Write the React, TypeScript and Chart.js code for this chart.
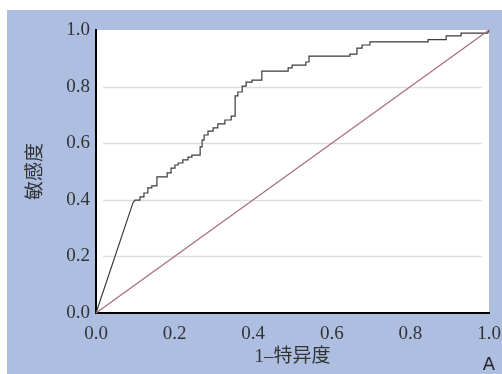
import React, { useEffect, useRef } from "react";
import { Chart, registerables } from "chart.js";

Chart.register(...registerables);

// 1 - specificity (false positive rate)
const fprValues = [
  0, 0.094, 0.099, 0.112, 0.112, 0.122, 0.122, 0.132, 0.132, 0.142, 0.142, 0.155, 0.155,
  0.181, 0.181, 0.191, 0.191, 0.201, 0.201, 0.209, 0.209, 0.221, 0.221, 0.234, 0.234,
  0.244, 0.244, 0.265, 0.265, 0.27, 0.27, 0.275, 0.275, 0.285, 0.285, 0.298, 0.298,
  0.31, 0.31, 0.328, 0.328, 0.344, 0.344, 0.354, 0.354, 0.361, 0.361, 0.372, 0.372,
  0.382, 0.382, 0.397, 0.397, 0.422, 0.422, 0.489, 0.489, 0.499, 0.499, 0.534, 0.534,
  0.542, 0.542, 0.646, 0.646, 0.664, 0.664, 0.677, 0.677, 0.697, 0.697, 0.845, 0.845,
  0.891, 0.891, 0.929, 0.929, 0.997, 1,
];
// sensitivity (true positive rate)
const tprValues = [
  0, 0.389, 0.399, 0.399, 0.41, 0.41, 0.424, 0.424, 0.442, 0.442, 0.449, 0.449, 0.481,
  0.481, 0.495, 0.495, 0.512, 0.512, 0.523, 0.523, 0.53, 0.53, 0.541, 0.541, 0.551,
  0.551, 0.558, 0.558, 0.587, 0.587, 0.611, 0.611, 0.629, 0.629, 0.643, 0.643, 0.654,
  0.654, 0.668, 0.668, 0.682, 0.682, 0.696, 0.696, 0.767, 0.767, 0.781, 0.781, 0.802,
  0.802, 0.816, 0.816, 0.823, 0.823, 0.855, 0.855, 0.866, 0.866, 0.876, 0.876, 0.887,
  0.887, 0.908, 0.908, 0.915, 0.915, 0.936, 0.936, 0.947, 0.947, 0.958, 0.958, 0.966,
  0.966, 0.979, 0.979, 0.989, 0.989, 1,
];
// reference diagonal
const diagX = [0, 1];
const diagY = [0, 1];

const tickValues = [0, 0.2, 0.4, 0.6, 0.8, 1.0];
const gridValues = [0.2, 0.4, 0.6, 0.8];
const xTitle = "1–特异度";
const yTitle = "敏感度";
const panelLabel = "A";

const SERIF = "'Liberation Serif', 'Noto Sans CJK SC', serif";

const bgPlugin = {
  id: "bgPlugin",
  beforeDraw(chart: any) {
    const { ctx, chartArea, width, height } = chart;
    ctx.save();
    ctx.fillStyle = "#ffffff";
    ctx.fillRect(0, 0, width, height);
    ctx.fillStyle = "#adbee0";
    ctx.fillRect(7, 10, width - 7, height - 10);
    ctx.fillStyle = "#ffffff";
    ctx.fillRect(chartArea.left, chartArea.top, chartArea.right - chartArea.left, chartArea.bottom - chartArea.top);
    // grid lines
    const ys = chart.scales.y;
    ctx.strokeStyle = "#dedede";
    ctx.lineWidth = 1.5;
    gridValues.forEach((v) => {
      const py = Math.round(ys.getPixelForValue(v)) + 0.5;
      ctx.beginPath();
      ctx.moveTo(chartArea.left + 7, py);
      ctx.lineTo(chartArea.right - 7, py);
      ctx.stroke();
    });
    ctx.restore();
  },
  afterDraw(chart: any) {
    const { ctx, chartArea } = chart;
    ctx.save();
    ctx.fillStyle = "#222";
    ctx.font = "18px 'DejaVu Sans', sans-serif";
    ctx.textAlign = "center";
    ctx.textBaseline = "alphabetic";
    ctx.fillText(panelLabel, chartArea.right, 370);
    ctx.restore();
  },
};

export default function App() {
  const ref = useRef<HTMLCanvasElement | null>(null);

  useEffect(() => {
    if (!ref.current) return;
    const roc = fprValues.map((x, i) => ({ x, y: tprValues[i] }));
    const diag = diagX.map((x, i) => ({ x, y: diagY[i] }));
    const chart = new Chart(ref.current, {
      type: "scatter",
      data: {
        datasets: [
          {
            data: diag,
            showLine: true,
            borderColor: "#a86b7b",
            borderWidth: 1.2,
            pointRadius: 0,
            clip: false,
          } as any,
          {
            data: roc,
            showLine: true,
            borderColor: "#3a3a3a",
            borderWidth: 1.2,
            pointRadius: 0,
            clip: false,
          } as any,
        ],
      },
      options: {
        responsive: false,
        animation: false,
        devicePixelRatio: 1,
        layout: { padding: { top: 30, right: 13, left: 0, bottom: 0 } },
        plugins: { legend: { display: false }, tooltip: { enabled: false } },
        scales: {
          x: {
            type: "linear",
            min: 0,
            max: 1,
            afterFit(scale: any) {
              scale.height = 61;
              scale.paddingLeft = 0;
              scale.paddingRight = 0;
            },
            afterBuildTicks(scale: any) {
              scale.ticks = tickValues.map((v) => ({ value: v }));
            },
            grid: { display: false, drawTicks: false },
            border: { display: true, color: "#000", width: 2 },
            ticks: {
              padding: 10,
              color: "#333",
              font: { family: SERIF, size: 19 },
              callback: (v: any) => Number(v).toFixed(1),
            },
            title: {
              display: true,
              text: xTitle,
              color: "#333",
              font: { family: SERIF, size: 19 },
              padding: { top: 0, bottom: 6 },
            },
          },
          y: {
            type: "linear",
            min: 0,
            max: 1,
            afterFit(scale: any) {
              scale.width = 96;
              scale.paddingTop = 0;
              scale.paddingBottom = 0;
            },
            afterBuildTicks(scale: any) {
              scale.ticks = tickValues.map((v) => ({ value: v }));
            },
            grid: { display: false, drawTicks: false },
            border: { display: true, color: "#000", width: 2 },
            ticks: {
              padding: 6,
              color: "#333",
              font: { family: SERIF, size: 19 },
              callback: (v: any) => Number(v).toFixed(1),
            },
            title: {
              display: true,
              text: yTitle,
              color: "#333",
              font: { family: SERIF, size: 19 },
              padding: { top: 25, bottom: 0 },
            },
          },
        },
      },
      plugins: [bgPlugin],
    });
    return () => chart.destroy();
  }, []);

  return (
    <div style={{ position: "absolute", left: 0, top: 0, width: 502, height: 374 }}>
      <canvas ref={ref} width={502} height={374} style={{ display: "block", width: 502, height: 374 }} />
    </div>
  );
}
